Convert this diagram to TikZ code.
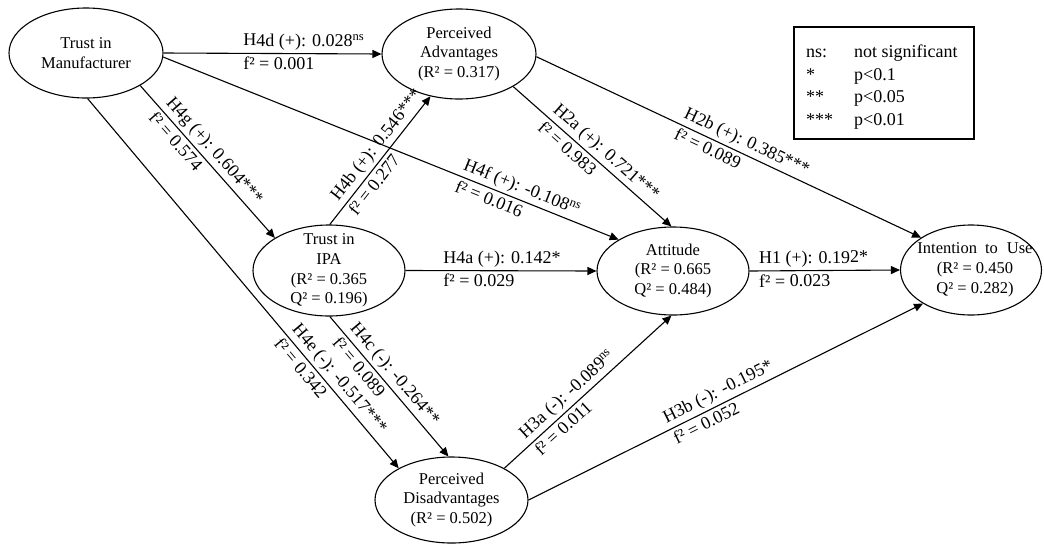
\documentclass[tikz,border=0pt]{standalone}
\usepackage{fontspec}
\setmainfont{Liberation Serif}
\usetikzlibrary{arrows.meta,shapes.geometric}
\begin{document}
\begin{tikzpicture}[x=1pt,y=-1pt,
  ell/.style={draw, ellipse, line width=1.1pt, inner sep=0pt},
  ntext/.style={font=\fontsize{16.5}{19.8}\selectfont, align=center, inner sep=0pt},
  conn/.style={line width=1.1pt, -{Triangle[length=9pt,width=8pt]}},
  up/.style={sloped, anchor=south west, inner sep=3pt, font=\fontsize{18}{21}\selectfont},
  dn/.style={sloped, anchor=north west, inner sep=3pt, font=\fontsize{18}{21}\selectfont},
  leg/.style={font=\fontsize{18}{21}\selectfont, anchor=base west, inner sep=0pt},
]
\useasboundingbox (0,0) rectangle (1044,544);

% construct nodes
\node[ell, minimum width=154pt, minimum height=90pt,
  label={[ntext]center:Trust in\\Manufacturer}] (tim) at (86,53) {};
\node[ell, minimum width=154pt, minimum height=90pt,
  label={[ntext]center:Perceived\\Advantages\\(R² = 0.317)}] (pa) at (459,54) {};
\node[ell, minimum width=152pt, minimum height=91pt,
  label={[ntext]center:Trust in\\IPA\\(R² = 0.365\\Q² = 0.196)}] (ipa) at (329,270.5) {};
\node[ell, minimum width=152pt, minimum height=88pt,
  label={[ntext]center:Attitude\\(R² = 0.665\\Q² = 0.484)}] (att) at (673,271) {};
\node[ell, minimum width=141pt, minimum height=90pt,
  label={[ntext,xshift=4pt]center:Intention\hspace{8pt}to\hspace{9pt}Use\\(R² = 0.450\\Q² = 0.282)}] (iou) at (971,270) {};
\node[ell, minimum width=153pt, minimum height=86pt,
  label={[ntext]center:Perceived\\Disadvantages\\(R² = 0.502)}] (pd) at (451.5,500) {};

% legend
\node[draw, line width=1.1pt, minimum width=180pt, minimum height=112pt, inner sep=0pt] (legend) at (884,83) {};
\node[leg] (l1a) at (806,57) {ns:};
\node[leg] (l1b) at (854,57) {not significant};
\node[leg] (l2a) at (806,80) {*};
\node[leg] (l2b) at (854,80) {p<0.1};
\node[leg] (l3a) at (806,102) {**};
\node[leg] (l3b) at (854,102) {p<0.05};
\node[leg] (l4a) at (806,125) {***};
\node[leg] (l4b) at (854,125) {p<0.01};

% paths
\draw[conn] (tim.east) -- node[pos=.35,up]{H4d (+): 0.028\textsuperscript{ns}} node[pos=.35,dn]{f² = 0.001} (pa.west);
\draw[conn] (tim.-3) -- node[pos=.644,up]{H4f (+): -0.108\textsuperscript{ns}} node[pos=.644,dn]{f² = 0.016} (att.150);
\draw[conn] (tim.-31) -- node[pos=.13,up]{H4g (+): 0.604***} node[pos=.13,dn]{f² = 0.574} (ipa.149);
\draw[conn] (tim.-88) -- node[pos=.63,up]{H4e (-): -0.517***} node[pos=.63,dn]{f² = 0.342} (pd.149);
\draw[conn] (ipa.89) -- node[pos=.12,up]{H4b (+): 0.546***} node[pos=.12,dn]{f² = 0.277} (pa.-124);
\draw[conn] (ipa.east) -- node[pos=.18,up]{H4a (+): 0.142*} node[pos=.18,dn]{f² = 0.029} (att.west);
\draw[conn] (ipa.-89) -- node[pos=.10,up]{H4c (-): -0.264**} node[pos=.10,dn]{f² = 0.089} (pd.94);
\draw[conn] (pa.-31) -- node[pos=.20,up]{H2a (+): 0.721***} node[pos=.20,dn]{f² = 0.983} (att.92);
\draw[conn] (pa.-2) -- node[pos=.365,up]{H2b (+): 0.385***} node[pos=.365,dn]{f² = 0.089} (iou.147);
\draw[conn] (att.east) -- node[pos=.04,up]{H1 (+): 0.192*} node[pos=.04,dn]{f² = 0.023} (iou.west);
\draw[conn] (pd.31) -- node[pos=.14,up]{H3a (-): -0.089\textsuperscript{ns}} node[pos=.14,dn]{f² = 0.011} (att.-92);
\draw[conn] (pd.east) -- node[pos=.35,up]{H3b (-): -0.195*} node[pos=.35,dn]{f² = 0.052} (iou.-145);
\end{tikzpicture}
\end{document}
